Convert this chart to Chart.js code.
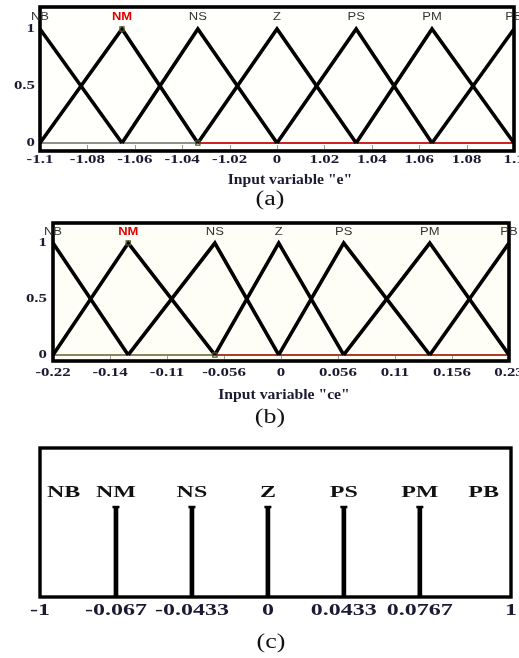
<!DOCTYPE html>
<html><head><meta charset="utf-8">
<script src="https://cdn.jsdelivr.net/npm/chart.js@4/dist/chart.umd.min.js"></script>
<style>
html,body{margin:0;padding:0;background:#fff;width:519px;height:658px;overflow:hidden;}
.box{position:absolute;left:0;width:519px;}
canvas{display:block;}
</style></head><body>
<div class="box" style="top:0;height:215px"><canvas id="ca" width="519" height="215"></canvas></div>
<div class="box" style="top:215px;height:220px"><canvas id="cb" width="519" height="220"></canvas></div>
<div class="box" style="top:435px;height:223px"><canvas id="cc" width="519" height="223"></canvas></div>
<script>
// ---------- data ----------
const mfNames = ['NB','NM','NS','Z','PS','PM','PB'];
// (a) input "e": membership-function peaks, in tick-slot units (ticks evenly spaced)
const eTicks = [0,1,2,3,4,5,6,7,8,9,10];
const eTickLabels = ['-1.1','-1.08','-1.06','-1.04','-1.02','0','1.02','1.04','1.06','1.08','1.1'];
const ePeaks = [0, 1.73, 3.33, 5, 6.67, 8.27, 10];
// (b) input "ce"
const ceTicks = [0,1,2,3,4,5,6,7,8];
const ceTickLabels = ['-0.22','-0.14','-0.11','-0.056','0','0.056','0.11','0.156','0.23'];
const cePeaks = [0, 1.32, 2.84, 3.96, 5.1, 6.61, 8];
// membership degree axis
const muTicks = [0, 0.5, 1];
const muTickLabels = ['0','0.5','1'];
// (c) output singletons
const duSlots = [0, 1, 2, 3, 4, 5, 6.2];
const duLabels = ['-1','-0.067','-0.0433','0','0.0433','0.0767','1'];
const duHeights = [1, 1, 1, 1, 1, 1, 1];

// ---------- helpers ----------
function stretchText(ctx, txt, x, y, font, color, sx, align) {
  ctx.save();
  ctx.translate(x, y);
  ctx.scale(sx, 1);
  ctx.font = font; ctx.fillStyle = color;
  ctx.textAlign = align || 'center'; ctx.textBaseline = 'middle';
  ctx.fillText(txt, 0, 0);
  ctx.restore();
}
function tri(peaks, i) {
  const pts = [];
  if (i > 0) pts.push({x: peaks[i-1], y: 0});
  pts.push({x: peaks[i], y: 1});
  if (i < peaks.length - 1) pts.push({x: peaks[i+1], y: 0});
  return pts;
}
const SERIF = '"Liberation Serif", "Times New Roman", serif';
const SANS = '"Liberation Sans", Arial, sans-serif';
const TICKCOL = '#1a1a33';

const decor = {
  id: 'decor',
  beforeDatasetsDraw(chart, args, o) {
    const {ctx, chartArea: a, scales: {x}} = chart;
    ctx.save();
    ctx.fillStyle = o.bg; ctx.fillRect(a.left, a.top, a.right - a.left, a.bottom - a.top);
    if (o.tickMarks) {
      ctx.strokeStyle = '#9a9a9a'; ctx.lineWidth = 1;
      o.xTicks.forEach(v => { const px = Math.round(x.getPixelForValue(v)) + 0.5;
        ctx.beginPath(); ctx.moveTo(px, a.bottom - 6); ctx.lineTo(px, a.bottom - 2); ctx.stroke(); });
    }
    ctx.restore();
  },
  afterDatasetsDraw(chart, args, o) {
    const {ctx, chartArea: a, scales: {x, y}} = chart;
    ctx.save();
    ctx.lineWidth = o.frameW; ctx.strokeStyle = '#000'; ctx.lineJoin = 'miter';
    ctx.strokeRect(a.left, a.top, a.right - a.left, a.bottom - a.top);
    ctx.restore();
    o.xTicks.forEach((v, i) => stretchText(ctx, o.xLabels[i], x.getPixelForValue(v), a.bottom + o.xLabDy, o.tickFont, TICKCOL, o.sx));
    if (o.yTicks) o.yTicks.forEach((v, i) => stretchText(ctx, o.yLabels[i], a.left - o.yLabDx, y.getPixelForValue(v), o.tickFont, TICKCOL, o.sx, 'right'));
    o.names.forEach((n, i) => {
      let px = x.getPixelForValue(o.namePos[i]), align = 'center';
      if (o.edgeNames && i === 0) { px = a.left + 7; align = 'left'; }
      if (o.edgeNames && i === o.names.length - 1) { px = a.right - 12; align = 'right'; }
      const red = o.redName === i;
      stretchText(ctx, n, px, a.top + o.nameDy, red ? o.redFont : o.nameFont, red ? '#e00000' : o.nameColor, o.nameSx, align);
    });
    if (o.title) stretchText(ctx, o.title, o.titleX, a.bottom + o.titleDy, 'bold 14px ' + SERIF, TICKCOL, 1.12);
    stretchText(ctx, o.caption, o.captionX, a.bottom + o.captionDy, '20px ' + SERIF, '#111', 1.3);
  }
};

function mfChart(id, peaks, ticks, tickLabels, pad, yMin, yMax, extra) {
  const ds = [];
  ds.push({data: [{x: peaks[0], y: 0}, {x: peaks[peaks.length-1], y: 0}], borderColor: extra.baseCol, borderWidth: extra.baseW, order: 20});
  ds.push({data: [{x: peaks[2], y: 0}, {x: peaks[peaks.length-1], y: 0}], borderColor: extra.redCol, borderWidth: 1.6, order: 19});
  peaks.forEach((p, i) => {
    const d = {label: mfNames[i], data: tri(peaks, i), borderColor: '#000', borderWidth: 3.6, order: 1,
      borderCapStyle: 'butt', borderJoinStyle: 'miter'};
    if (i === 1) {
      d.pointRadius = [0, 3, 3]; d.pointStyle = 'rect';
      d.pointBorderColor = '#55552a'; d.pointBackgroundColor = 'rgba(0,0,0,0)'; d.pointBorderWidth = 1.2;
    }
    ds.push(d);
  });
  return new Chart(document.getElementById(id), {
    type: 'line',
    data: {datasets: ds},
    options: {
      responsive: false, animation: false, devicePixelRatio: 1,
      layout: {padding: pad},
      elements: {line: {tension: 0}, point: {radius: 0, hoverRadius: 0}},
      scales: {
        x: {type: 'linear', display: false, min: ticks[0], max: ticks[ticks.length-1]},
        y: {type: 'linear', display: false, min: yMin, max: yMax}
      },
      plugins: {
        legend: {display: false}, tooltip: {enabled: false},
        decor: Object.assign({
          bg: '#fffffb', frameW: 3.6, tickMarks: true,
          xTicks: ticks, xLabels: tickLabels, yTicks: muTicks, yLabels: muTickLabels,
          tickFont: 'bold 13px ' + SERIF, sx: 1.3, xLabDy: 9, yLabDx: 5,
          names: mfNames, namePos: peaks, nameDy: 10, nameFont: '10px ' + SANS, redFont: 'bold 10px ' + SANS,
          nameColor: '#333', nameSx: 1.3, redName: 1
        }, extra)
      }
    },
    plugins: [decor]
  });
}

mfChart('ca', ePeaks, eTicks, eTickLabels, {left: 40, right: 5, top: 7, bottom: 64}, -0.07, 1.193,
  {baseCol: '#222', baseW: 1.2, redCol: '#e00000', title: 'Input variable "e"', titleX: 290, titleDy: 29,
   caption: '(a)', captionX: 270, captionDy: 49});
mfChart('cb', cePeaks, ceTicks, ceTickLabels, {left: 53, right: 10, top: 8, bottom: 74}, -0.054, 1.179,
  {baseCol: '#8a8660', baseW: 2, redCol: '#b02a1a', bg: '#fffef6', xLabDy: 12, yLabDx: 6, nameDy: 9,
   title: 'Input variable "ce"', titleX: 284, titleDy: 34, caption: '(b)', captionX: 270, captionDy: 57});

// (c) output singletons (NB and PB sit on the frame edges, hidden by the border)
const last = duSlots.length - 1;
const isEdge = c => c.dataIndex === 0 || c.dataIndex === last;
new Chart(document.getElementById('cc'), {
  type: 'bar',
  data: {datasets: [
    {type: 'bar', data: duSlots.map((s, i) => ({x: s, y: duHeights[i]})),
     backgroundColor: c => isEdge(c) ? 'rgba(0,0,0,0)' : '#000',
     barThickness: 4, grouped: false, order: 2},
    {type: 'scatter', data: duSlots.map((s, i) => ({x: s, y: duHeights[i]})), pointStyle: 'line',
     pointRadius: c => isEdge(c) ? 0 : 3.5, pointBorderWidth: 2.5,
     borderColor: '#000', pointBorderColor: '#000', order: 1}
  ]},
  options: {
    responsive: false, animation: false, devicePixelRatio: 1,
    layout: {padding: {left: 40, right: 8, top: 13, bottom: 61}},
    scales: {
      x: {type: 'linear', display: false, offset: false, min: duSlots[0], max: duSlots[last]},
      y: {type: 'linear', display: false, min: 0, max: 1.656}
    },
    plugins: {
      legend: {display: false}, tooltip: {enabled: false},
      decor: {
        bg: '#ffffff', frameW: 3.4, tickMarks: false,
        xTicks: duSlots, xLabels: duLabels, yTicks: null,
        tickFont: 'bold 16px ' + SERIF, sx: 1.5, xLabDy: 14,
        names: mfNames, namePos: duSlots, edgeNames: true, nameDy: 45,
        nameFont: 'bold 16px ' + SERIF, redFont: 'bold 16px ' + SERIF, nameColor: '#111', nameSx: 1.5, redName: -1,
        title: null, caption: '(c)', captionX: 271, captionDy: 46
      }
    }
  },
  plugins: [decor]
});
</script>
</body></html>
